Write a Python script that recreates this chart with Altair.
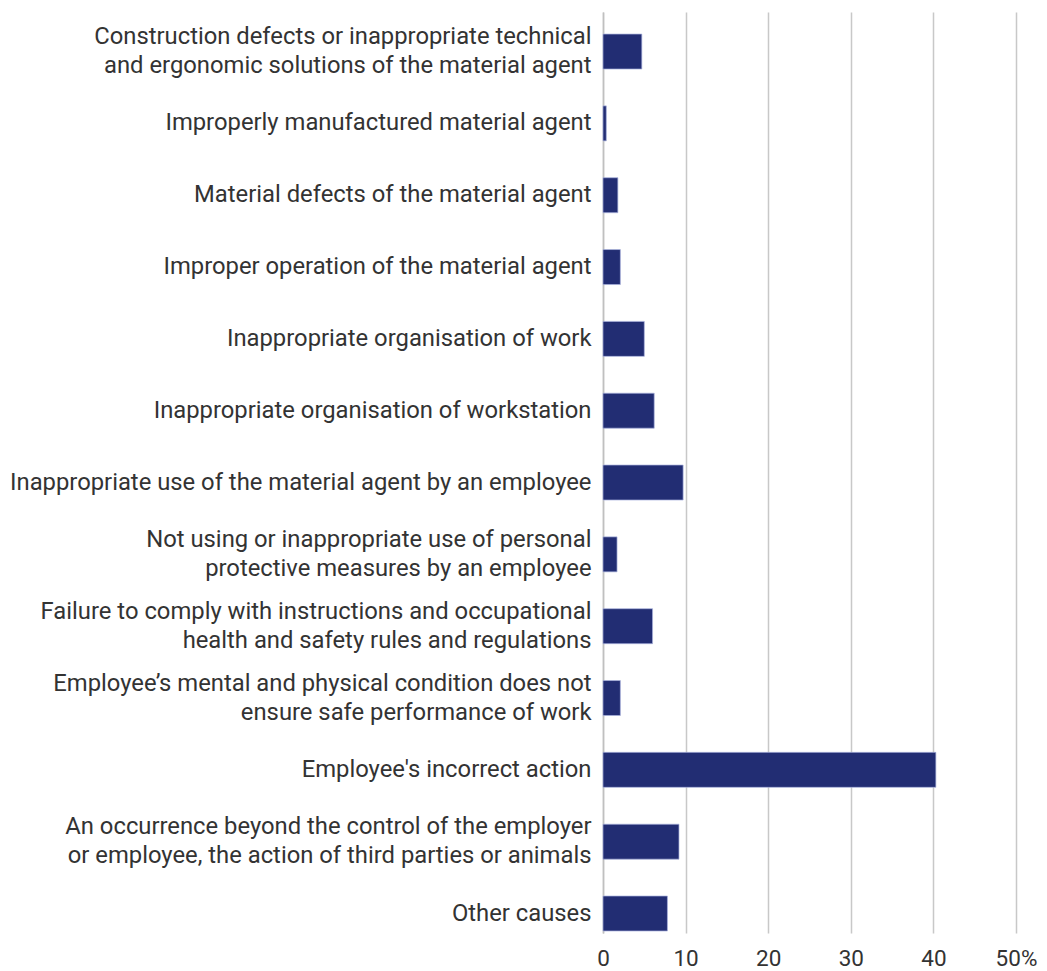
import altair as alt
import pandas as pd

categories = [
    "Construction defects or inappropriate technical|and ergonomic solutions of the material agent",
    "Improperly manufactured material agent",
    "Material defects of the material agent",
    "Improper operation of the material agent",
    "Inappropriate organisation of work",
    "Inappropriate organisation of workstation",
    "Inappropriate use of the material agent by an employee",
    "Not using or inappropriate use of personal|protective measures by an employee",
    "Failure to comply with instructions and occupational|health and safety rules and regulations",
    "Employee\u2019s mental and physical condition does not|ensure safe performance of work",
    "Employee's incorrect action",
    "An occurrence beyond the control of the employer|or employee, the action of third parties or animals",
    "Other causes",
]
values = [4.7, 0.4, 1.8, 2.1, 5.0, 6.2, 9.7, 1.7, 6.0, 2.1, 40.3, 9.2, 7.8]
x_ticks = [0, 10, 20, 30, 40, 50]

df = pd.DataFrame({"cause": categories, "share": values})

FONT = "Roboto, Noto Sans, sans-serif"

chart = alt.Chart(df).mark_bar(
    color="#222d73", stroke="#aab2dd", strokeWidth=1, strokeOpacity=0.7
).encode(
    x=alt.X(
        "share:Q",
        scale=alt.Scale(domain=[0, 50], nice=False),
        axis=alt.Axis(
            values=x_ticks,
            title=None,
            grid=True,
            gridColor="#c8c8c8",
            gridWidth=1.5,
            domain=False,
            ticks=False,
            labelFlush=False,
            labelPadding=14,
            labelFontSize=22.5,
            labelColor="#333333",
            labelFont=FONT,
            labelExpr="datum.value == 50 ? '50%' : datum.label",
        ),
    ),
    y=alt.Y(
        "cause:N",
        sort=categories,
        scale=alt.Scale(paddingInner=0.513, paddingOuter=0.1675, align=0.917),
        axis=alt.Axis(
            title=None,
            ticks=False,
            domain=True,
            domainColor="#c0c0c0",
            domainWidth=1.5,
            labelPadding=12,
            labelFontSize=23.8,
            labelColor="#333333",
            labelFont=FONT,
            labelLimit=0,
            labelLineHeight=29,
            labelOffset={
                "condition": {"test": "indexof(datum.value, '|') >= 0", "value": -14.5},
                "value": 0,
            },
            labelExpr="split(datum.label, '|')",
        ),
    ),
).properties(
    width=413,
    height=921,
    autosize=alt.AutoSizeParams(type="none"),
    padding={"left": 595, "top": 4, "right": 23, "bottom": 42},
).configure_view(stroke=None)

chart.save("out.html", embed_options={"renderer": "svg", "actions": False})
